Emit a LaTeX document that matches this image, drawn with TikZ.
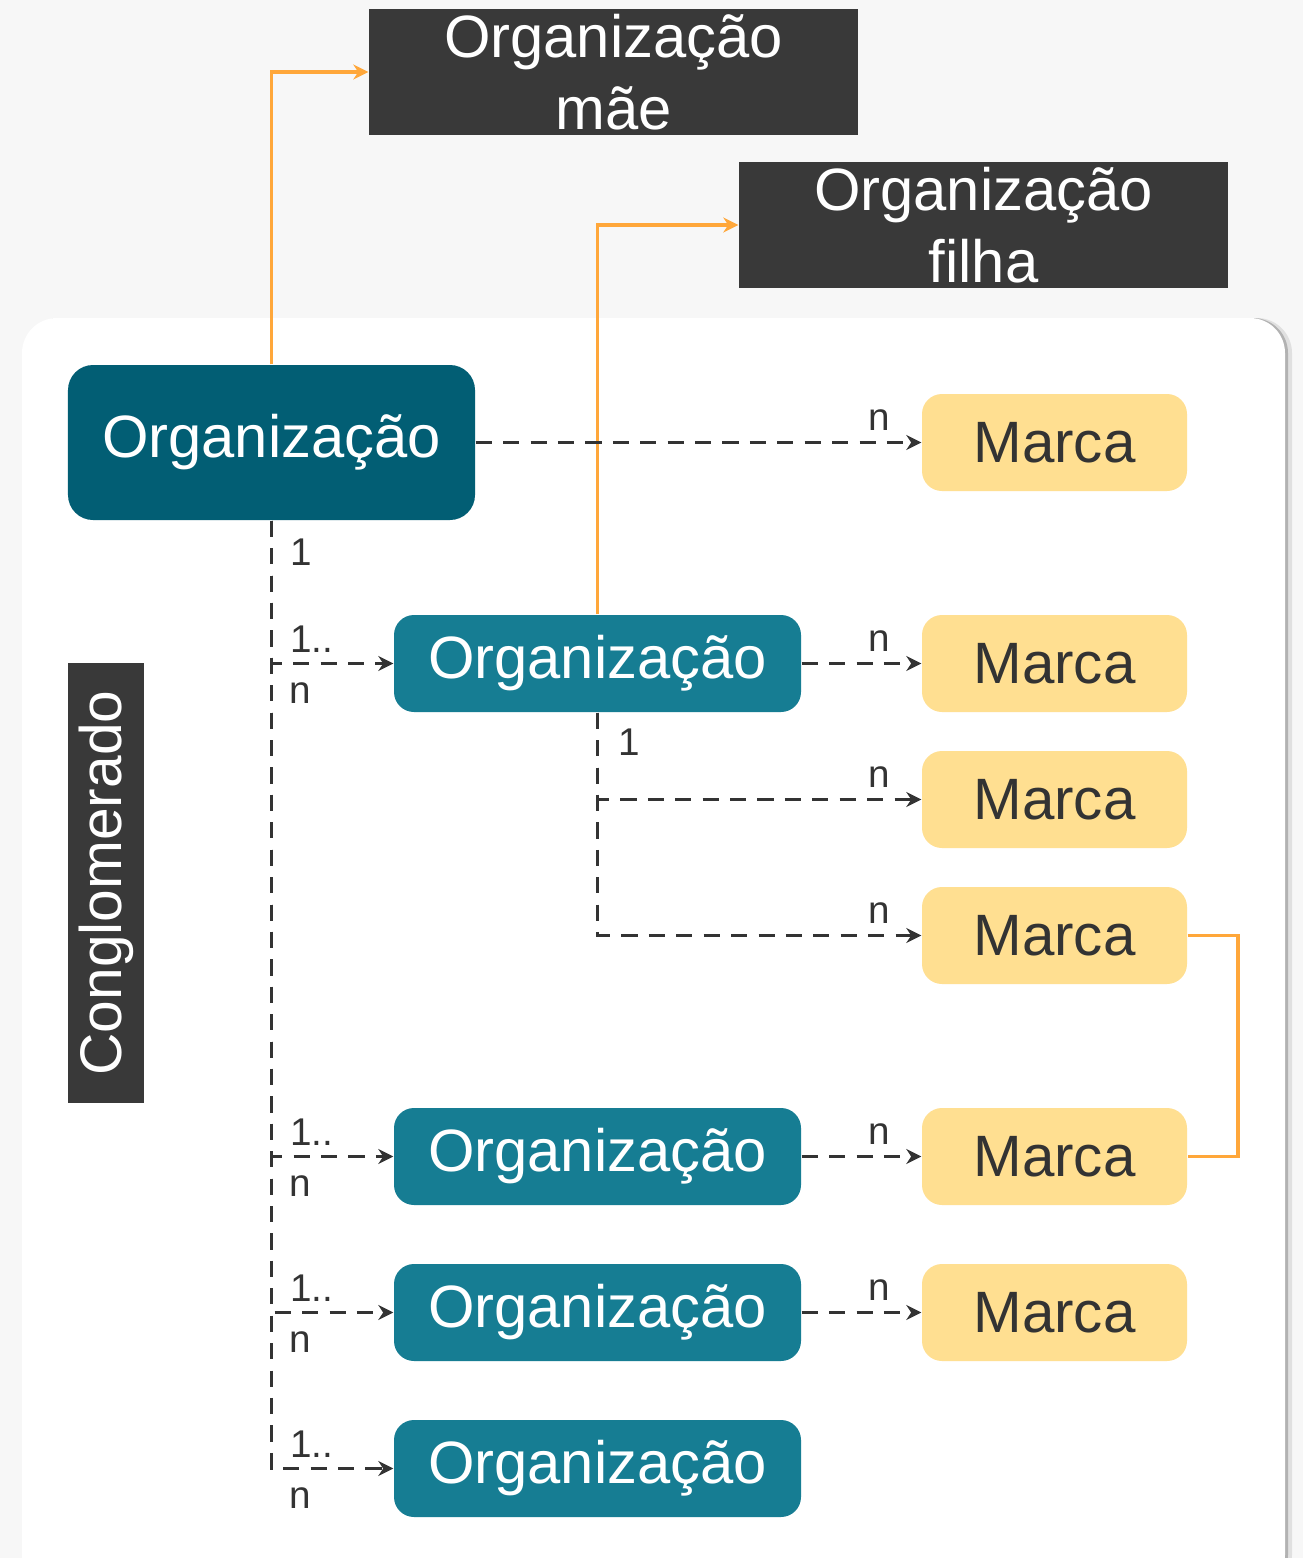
\documentclass[tikz,border=0pt]{standalone}
\usepackage{fontspec}
\setmainfont{Liberation Sans}
\usetikzlibrary{arrows.meta}

\definecolor{bgcol}{HTML}{F7F7F7}
\definecolor{boxdark}{HTML}{393939}
\definecolor{orgtop}{HTML}{025E74}
\definecolor{orgcol}{HTML}{167D93}
\definecolor{marcacol}{HTML}{FFDF91}
\definecolor{txtdark}{HTML}{333333}
\definecolor{linkorange}{HTML}{FFA73A}

\begin{document}
\begin{tikzpicture}[
    darkbox/.style={fill=boxdark, text=white, minimum width=4.89cm, minimum height=1.26cm,
      inner sep=0pt, align=center, font=\fontsize{17}{20.5}\selectfont},
    orgbox/.style={fill=orgcol, text=white, rounded corners=0.2cm, minimum width=4.07cm,
      minimum height=0.97cm, inner sep=0pt, font=\fontsize{17}{21}\selectfont},
    marcabox/.style={fill=marcacol, text=txtdark, rounded corners=0.2cm, minimum width=2.65cm,
      minimum height=0.97cm, inner sep=0pt, font=\fontsize{16.6}{20}\selectfont},
    dashline/.style={txtdark, line width=1pt, dash pattern=on 4.6pt off 3.2pt,
      -{Stealth[length=0.15cm,width=0.15cm]}},
    orangeline/.style={linkorange, line width=1.1pt},
    lbl/.style={text=txtdark, inner sep=0pt, font=\fontsize{11}{13}\selectfont}
  ]
                  % Background and panel
                  \fill[bgcol] (0,0) rectangle (13.03,-15.58);
                  \useasboundingbox (0,0) rectangle (13.03,-15.58);
                  \fill[black!12, rounded corners=0.35cm] (0.29,-3.18) rectangle (12.92,-15.9);
                  \fill[black!30, rounded corners=0.35cm] (0.25,-3.18) rectangle (12.88,-15.9);
                  \fill[white, rounded corners=0.35cm] (0.22,-3.18) rectangle (12.85,-15.9);

                  % Dark boxes
                  \node[darkbox] (mae) at (6.135,-0.72) {Organização\\mãe};
                  \node[darkbox] (filha) at (9.835,-2.25) {Organização\\filha};
                  \node[fill=boxdark, text=white, minimum width=4.40cm, minimum height=0.76cm,
                    inner sep=0pt, rotate=90, font=\fontsize{16.7}{20}\selectfont]
                    (congl) at (1.06,-8.83) {Conglomerado};

                  % Organizations
                  \node[orgbox, fill=orgtop, minimum height=1.55cm, rounded corners=0.25cm]
                    (orgTop) at (2.715,-4.425) {Organização};
                  \node[orgbox] (orgA) at (5.975,-6.635) {Organização};
                  \node[orgbox] (orgB) at (5.975,-11.565) {Organização};
                  \node[orgbox] (orgC) at (5.975,-13.125) {Organização};
                  \node[orgbox] (orgD) at (5.975,-14.685) {Organização};

                  % Brands
                  \node[marcabox] (m1) at (10.545,-4.425) {Marca};
                  \node[marcabox] (m2) at (10.545,-6.635) {Marca};
                  \node[marcabox] (m3) at (10.545,-7.995) {Marca};
                  \node[marcabox] (m4) at (10.545,-9.355) {Marca};
                  \node[marcabox] (m5) at (10.545,-11.565) {Marca};
                  \node[marcabox] (m6) at (10.545,-13.125) {Marca};

                  % Orange links
                  \draw[orangeline, -{Stealth[length=0.15cm,width=0.15cm]}] (orgTop.north) |- (mae.west);
                  \draw[orangeline, -{Stealth[length=0.15cm,width=0.15cm]}] (orgA.north) |- (filha.west);
                  \draw[orangeline] (m4.east) -- ++(0.5,0) |- (m5.east);

                  % Organization to brand
                  \draw[dashline] (orgTop.east) -- (m1.west)
                    node[lbl, pos=1, anchor=south east, xshift=-0.3cm, yshift=0.1cm] {n};
                  \draw[dashline] (orgA.east) -- (m2.west)
                    node[lbl, pos=1, anchor=south east, xshift=-0.3cm, yshift=0.1cm] {n};
                  \draw[dashline] (orgB.east) -- (m5.west)
                    node[lbl, pos=1, anchor=south east, xshift=-0.3cm, yshift=0.1cm] {n};
                  \draw[dashline] (orgC.east) -- (m6.west)
                    node[lbl, pos=1, anchor=south east, xshift=-0.3cm, yshift=0.1cm] {n};
                  \draw[dashline] (orgA.south) |- (m3.west)
                    node[lbl, pos=1, anchor=south east, xshift=-0.3cm, yshift=0.1cm] {n};
                  \draw[dashline] (orgA.south) |- (m4.west)
                    node[lbl, pos=1, anchor=south east, xshift=-0.3cm, yshift=0.1cm] {n};
                  \node[lbl, anchor=north west] at ([xshift=0.2cm,yshift=-0.15cm]orgA.south) {1};

                  % Conglomerate trunk
                  \foreach \org in {orgA, orgB, orgC, orgD} {
                    \draw[dashline] (orgTop.south) |- (\org.west)
                      node[lbl, pos=0.5, anchor=south west, xshift=0.17cm, yshift=0.09cm] {1..}
                      node[lbl, pos=0.5, anchor=north west, xshift=0.16cm, yshift=-0.17cm] {n};
                  }
                  \node[lbl, anchor=north west] at ([xshift=0.18cm,yshift=-0.17cm]orgTop.south) {1};

              \end{tikzpicture}
\end{document}
